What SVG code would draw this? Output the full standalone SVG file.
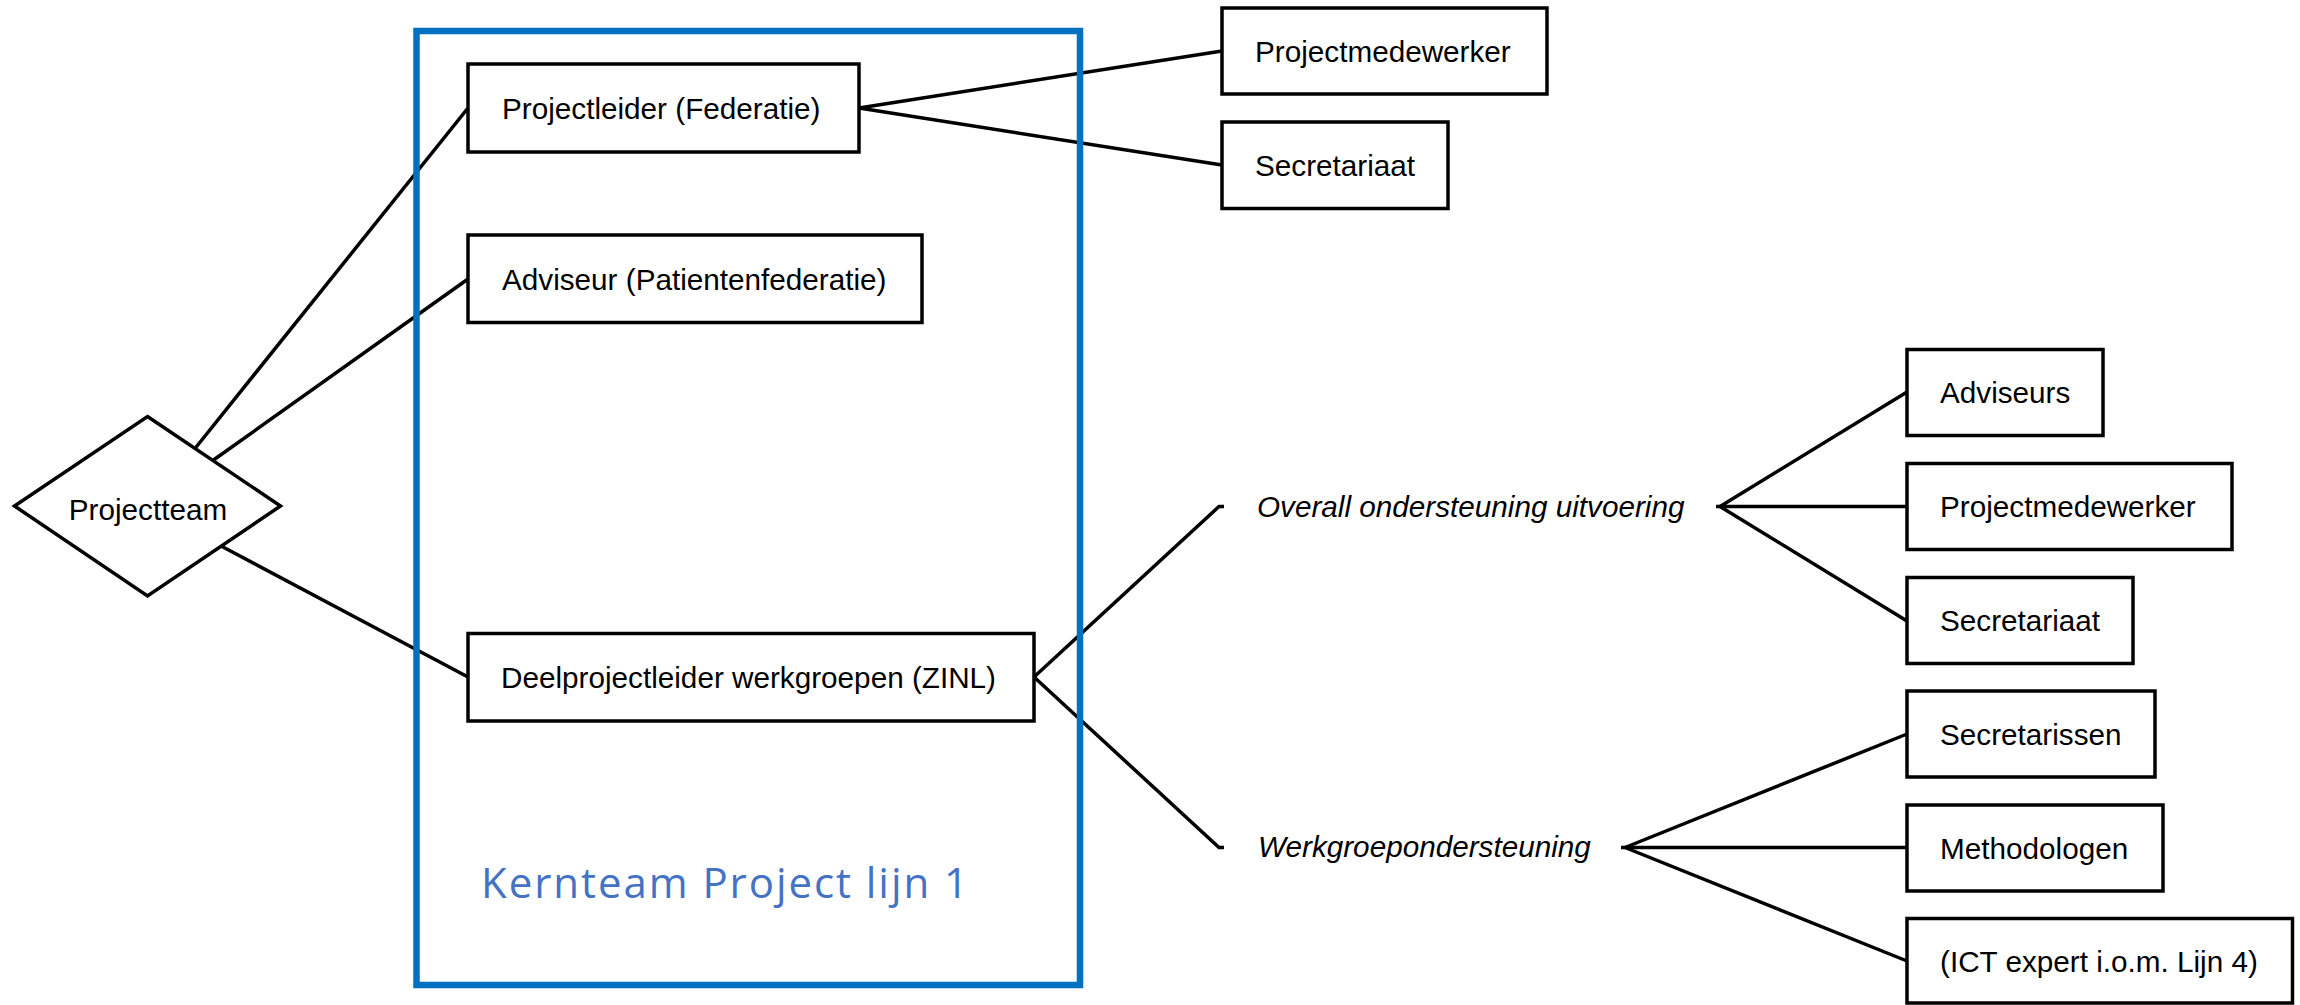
<svg xmlns="http://www.w3.org/2000/svg" width="2300" height="1005" viewBox="0 0 2300 1005">
<style>
.box{fill:#fff;stroke:#000;stroke-width:3.5}
.t{font-family:"Liberation Sans",Arial,Helvetica,sans-serif;font-size:29.7px;fill:#000}
.i{font-style:italic}
.c{fill:none;stroke:#000;stroke-width:3.5;stroke-linecap:butt;stroke-linejoin:miter}
.k{font-family:"Open Sans","Noto Sans",sans-serif;font-size:42px;fill:#4472C4}
</style>
<rect width="2300" height="1005" fill="#fff"/>
<g id="connectors">
<line class="c" x1="195" y1="448.5" x2="468" y2="108"/>
<line class="c" x1="213.5" y1="460" x2="468" y2="279"/>
<line class="c" x1="222" y1="546.5" x2="468" y2="677"/>
<line class="c" x1="859" y1="108" x2="1222" y2="51"/>
<line class="c" x1="859" y1="108" x2="1222" y2="165"/>
<polyline class="c" points="1034,677 1219,506.5 1224,506.5"/>
<polyline class="c" points="1034,677 1219,847.5 1224,847.5"/>
<line class="c" x1="1720" y1="506.5" x2="1907" y2="392"/>
<line class="c" x1="1716" y1="506.5" x2="1907" y2="506.5"/>
<line class="c" x1="1720" y1="506.5" x2="1907" y2="621"/>
<line class="c" x1="1625" y1="847.5" x2="1907" y2="734"/>
<line class="c" x1="1621" y1="847.5" x2="1907" y2="847.5"/>
<line class="c" x1="1625" y1="847.5" x2="1907" y2="961"/>
</g>
<g id="kernteam">
<rect x="416.5" y="31" width="663.5" height="954" fill="none" stroke="#0070C0" stroke-width="6.5"/>
<text class="k" x="481" y="898" textLength="487" lengthAdjust="spacing">Kernteam Project lijn 1</text>
</g>
<g id="projectteam">
<polygon class="box" points="147.5,416.5 280.5,506 147.5,596 14.5,506"/>
<text class="t" x="148" y="519.5" text-anchor="middle">Projectteam</text>
</g>
<g id="projectleider">
<rect class="box" x="468" y="64" width="391" height="88"/>
<text class="t" x="502" y="118.5">Projectleider (Federatie)</text>
</g>
<g id="adviseur">
<rect class="box" x="468" y="235" width="454" height="87.5"/>
<text class="t" x="502" y="289.5">Adviseur (Patientenfederatie)</text>
</g>
<g id="deelprojectleider">
<rect class="box" x="468" y="633.5" width="566" height="87.5"/>
<text class="t" x="501" y="687.5">Deelprojectleider werkgroepen (ZINL)</text>
</g>
<g id="projectmedewerker1">
<rect class="box" x="1222" y="8" width="325" height="86"/>
<text class="t" x="1255" y="61.5">Projectmedewerker</text>
</g>
<g id="secretariaat1">
<rect class="box" x="1222" y="122" width="226" height="86.5"/>
<text class="t" x="1255" y="175.5">Secretariaat</text>
</g>
<g id="overall">
<text class="t i" x="1257" y="517">Overall ondersteuning uitvoering</text>
</g>
<g id="werkgroep">
<text class="t i" x="1258" y="857">Werkgroepondersteuning</text>
</g>
<g id="adviseurs">
<rect class="box" x="1907" y="349.5" width="196" height="86"/>
<text class="t" x="1940" y="403">Adviseurs</text>
</g>
<g id="projectmedewerker2">
<rect class="box" x="1907" y="463.5" width="325" height="86"/>
<text class="t" x="1940" y="517">Projectmedewerker</text>
</g>
<g id="secretariaat2">
<rect class="box" x="1907" y="577.5" width="226" height="86"/>
<text class="t" x="1940" y="631">Secretariaat</text>
</g>
<g id="secretarissen">
<rect class="box" x="1907" y="691" width="248" height="86"/>
<text class="t" x="1940" y="744.5">Secretarissen</text>
</g>
<g id="methodologen">
<rect class="box" x="1907" y="805" width="256" height="86"/>
<text class="t" x="1940" y="858.5">Methodologen</text>
</g>
<g id="ict">
<rect class="box" x="1907" y="918.5" width="385.5" height="84.5"/>
<text class="t" x="1940" y="971.5">(ICT expert i.o.m. Lijn 4)</text>
</g>
</svg>
